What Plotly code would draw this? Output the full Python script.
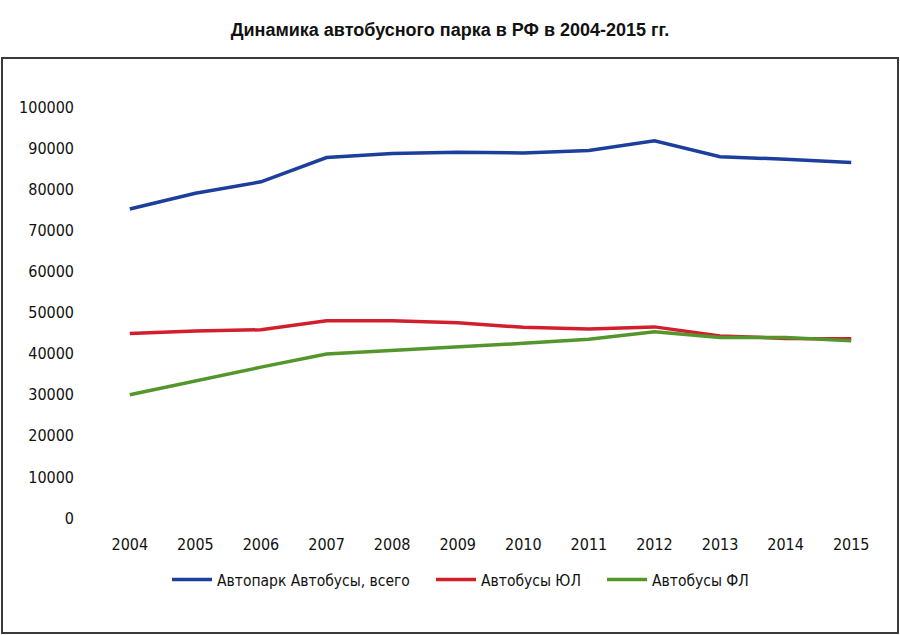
import plotly.graph_objects as go

years = ["2004", "2005", "2006", "2007", "2008", "2009", "2010", "2011", "2012", "2013", "2014", "2015"]
total = [75200, 79000, 81800, 87700, 88700, 89000, 88800, 89400, 91800, 87900, 87300, 86500]
legal = [44900, 45500, 45800, 48000, 48000, 47500, 46400, 46000, 46500, 44300, 43700, 43600]
private = [30000, 33400, 36700, 39900, 40700, 41500, 42500, 43500, 45300, 43900, 43900, 43100]

names = ["Автопарк Автобусы, всего", "Автобусы ЮЛ", "Автобусы ФЛ"]
colors = ["#1c3f9e", "#d21f2d", "#55962c"]
y_ticks = [0, 10000, 20000, 30000, 40000, 50000, 60000, 70000, 80000, 90000, 100000]

W, H = 900, 635
L, R, T, B = 97, 16, 107, 117
pw, ph = W - L - R, H - T - B

def px(x):
    return (x - L) / pw

def py(y):
    return (H - B - y) / ph

fig = go.Figure()
legend_keys = ["legend", "legend2", "legend3"]
for vals, name, col, lk in zip([total, legal, private], names, colors, legend_keys):
    fig.add_trace(go.Scatter(x=years, y=vals, name=name, mode="lines", showlegend=True,
                             line=dict(color=col, width=3.5), legend=lk))

tick_font = dict(family="DejaVu Sans Condensed, Liberation Sans Narrow, sans-serif", size=16, color="#111")
leg_common = dict(orientation="h", yanchor="middle", xanchor="left", y=py(580), visible=True,
                  itemwidth=40,
                  font=dict(family="DejaVu Sans Condensed, Liberation Sans Narrow, sans-serif", size=15.5, color="#111"),
                  bgcolor="rgba(0,0,0,0)", borderwidth=0)

fig.update_layout(
    width=W, height=H,
    showlegend=True,
    margin=dict(l=L, r=R, t=T, b=B),
    paper_bgcolor="white", plot_bgcolor="white",
    title=dict(text="<b>Динамика автобусного парка в РФ в 2004-2015 гг.</b>",
               x=0.5, xanchor="center", y=1 - 30 / H, yanchor="middle",
               font=dict(family="Liberation Sans Narrow, Liberation Sans, sans-serif", size=18, color="#111")),
    xaxis=dict(type="category", range=[-0.5, 11.5], showgrid=False, zeroline=False, showline=False,
               ticks="", tickfont=tick_font, ticklabelstandoff=15),
    yaxis=dict(range=[0, 100000], tickvals=y_ticks, ticktext=[str(v) for v in y_ticks],
               showgrid=False, zeroline=False, showline=False, ticks="",
               tickfont=tick_font, ticklabelstandoff=22),
    legend=dict(x=px(167), **leg_common),
    legend2=dict(x=px(431), **leg_common),
    legend3=dict(x=px(602), **leg_common),
    shapes=[dict(type="rect", xref="paper", yref="paper",
                 x0=px(2), x1=px(898), y0=py(633), y1=py(58),
                 line=dict(color="#3a3a3a", width=2), fillcolor="rgba(0,0,0,0)", layer="below")],
)

fig.write_html("out.html", config={"displayModeBar": False},
               post_script="document.body.style.margin='0';")
